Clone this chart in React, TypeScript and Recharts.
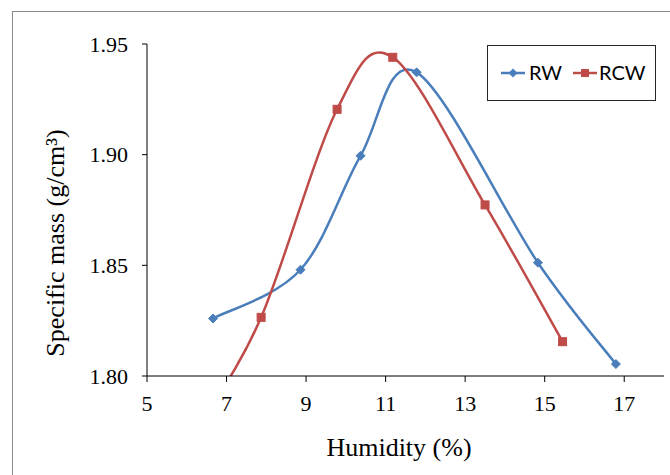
import React from "react";
import { LineChart, Line, XAxis, YAxis, Label } from "recharts";

// Data
const rwX = [6.66, 8.86, 10.37, 11.78, 14.83, 16.79];
const rwY = [1.826, 1.848, 1.8995, 1.9372, 1.8512, 1.8054];
const rcwX = [6.4, 7.87, 9.78, 11.18, 13.5, 15.45];
const rcwY = [1.78, 1.8265, 1.9205, 1.944, 1.8773, 1.8155];
const xTicks = [5, 7, 9, 11, 13, 15, 17];
const yTicks = [1.8, 1.85, 1.9, 1.95];
const seriesNames = ["RW", "RCW"];

const rwData = rwX.map((x, i) => ({ x, y: rwY[i] }));
const rcwData = rcwX.map((x, i) => ({ x, y: rcwY[i] }));

const BLUE = "#4a7ebb";
const RED = "#be4b48";
const SERIF = "'Liberation Serif', 'Times New Roman', serif";
const SANS = "Lato, 'Open Sans', sans-serif";

// Excel-like smoothed line (Catmull-Rom as cubic Bezier)
const excelCurve: any = (context: any) => {
  let pts: number[][] = [];
  return {
    areaStart() {},
    areaEnd() {},
    lineStart() {
      pts = [];
    },
    lineEnd() {
      if (!pts.length) return;
      context.moveTo(pts[0][0], pts[0][1]);
      for (let i = 0; i < pts.length - 1; i++) {
        const p0 = pts[i - 1] || pts[i];
        const p1 = pts[i];
        const p2 = pts[i + 1];
        const p3 = pts[i + 2] || p2;
        context.bezierCurveTo(
          p1[0] + (p2[0] - p0[0]) / 6,
          p1[1] + (p2[1] - p0[1]) / 6,
          p2[0] - (p3[0] - p1[0]) / 6,
          p2[1] - (p3[1] - p1[1]) / 6,
          p2[0],
          p2[1]
        );
      }
    },
    point(x: number, y: number) {
      pts.push([+x, +y]);
    },
  };
};

const Diamond = (props: any) => {
  const { cx, cy } = props;
  if (cx == null || cy == null) return null;
  const r = 4.5;
  return (
    <polygon
      key={`d-${cx}-${cy}`}
      points={`${cx},${cy - r} ${cx + r},${cy} ${cx},${cy + r} ${cx - r},${cy}`}
      fill={BLUE}
      stroke={BLUE}
      strokeWidth={1}
    />
  );
};

const Square = (props: any) => {
  const { cx, cy } = props;
  if (cx == null || cy == null) return null;
  const s = 8;
  return (
    <rect key={`s-${cx}-${cy}`} x={cx - s / 2} y={cy - s / 2} width={s} height={s} fill={RED} stroke={RED} strokeWidth={1} />
  );
};

const LegendBox = () => (
  <div
    style={{
      position: "absolute",
      left: 487,
      top: 45,
      width: 169,
      height: 56,
      boxSizing: "border-box",
      border: "1.5px solid #262626",
      background: "#fff",
    }}
  >
    <svg width={169} height={56} style={{ position: "absolute", left: -1.5, top: -1.5 }}>
      <line x1={14} x2={38} y1={28} y2={28} stroke={BLUE} strokeWidth={2.5} />
      <polygon points="26,23.5 30.5,28 26,32.5 21.5,28" fill={BLUE} />
      <text x={42} y={35} fontSize={20} fontFamily={SANS} fill="#000">{seriesNames[0]}</text>
      <line x1={86} x2={110} y1={28} y2={28} stroke={RED} strokeWidth={2.5} />
      <rect x={94} y={24} width={8} height={8} fill={RED} />
      <text x={112} y={35} fontSize={20} fontFamily={SANS} fill="#000">{seriesNames[1]}</text>
    </svg>
  </div>
);

export default function App() {
  return (
    <div style={{ position: "absolute", left: 0, top: 0, width: 670, height: 475, background: "#fff", overflow: "hidden" }}>
      <div
        style={{
          position: "absolute",
          left: 12,
          top: 11,
          width: 700,
          height: 500,
          border: "1.5px solid #8a8a8a",
        }}
      />
      <div style={{ position: "absolute", left: 0, top: 0 }}>
        <LineChart width={670} height={475} margin={{ top: 44, right: 6, bottom: 0, left: 0 }}>
          <XAxis
            type="number"
            dataKey="x"
            domain={[5, 18]}
            ticks={xTicks}
            allowDataOverflow
            height={99}
            tickSize={6}
            tickMargin={13}
            axisLine={{ stroke: "#000", strokeWidth: 1 }}
            tickLine={{ stroke: "#000", strokeWidth: 1 }}
            tick={{ fill: "#000", fontSize: 22, fontFamily: SERIF }}
          >
            <Label
              content={() => (
                <text x={399} y={456} textAnchor="middle" fontSize={26} fontFamily={SERIF} fill="#000">
                  Humidity (%)
                </text>
              )}
            />
          </XAxis>
          <YAxis
            type="number"
            dataKey="y"
            domain={[1.8, 1.95]}
            ticks={yTicks}
            allowDataOverflow
            width={147}
            tickSize={5}
            tickMargin={14}
            tickFormatter={(v: number) => v.toFixed(2)}
            axisLine={{ stroke: "#000", strokeWidth: 1 }}
            tickLine={{ stroke: "#000", strokeWidth: 1 }}
            tick={{ fill: "#000", fontSize: 22, fontFamily: SERIF }}
          >
            <Label
              content={() => (
                <text
                  transform="translate(64,243) rotate(-90)"
                  textAnchor="middle"
                  fontSize={26}
                  fontFamily={SERIF}
                  fill="#000"
                >
                  Specific mass (g/cm³)
                </text>
              )}
            />
          </YAxis>
          <Line
            data={rwData}
            dataKey="y"
            name={seriesNames[0]}
            type={excelCurve}
            stroke={BLUE}
            strokeWidth={2.5}
            dot={<Diamond />}
            activeDot={false}
            isAnimationActive={false}
          />
          <Line
            data={rcwData}
            dataKey="y"
            name={seriesNames[1]}
            type={excelCurve}
            stroke={RED}
            strokeWidth={2.5}
            dot={<Square />}
            activeDot={false}
            isAnimationActive={false}
          />
        </LineChart>
      </div>
      <LegendBox />
    </div>
  );
}
